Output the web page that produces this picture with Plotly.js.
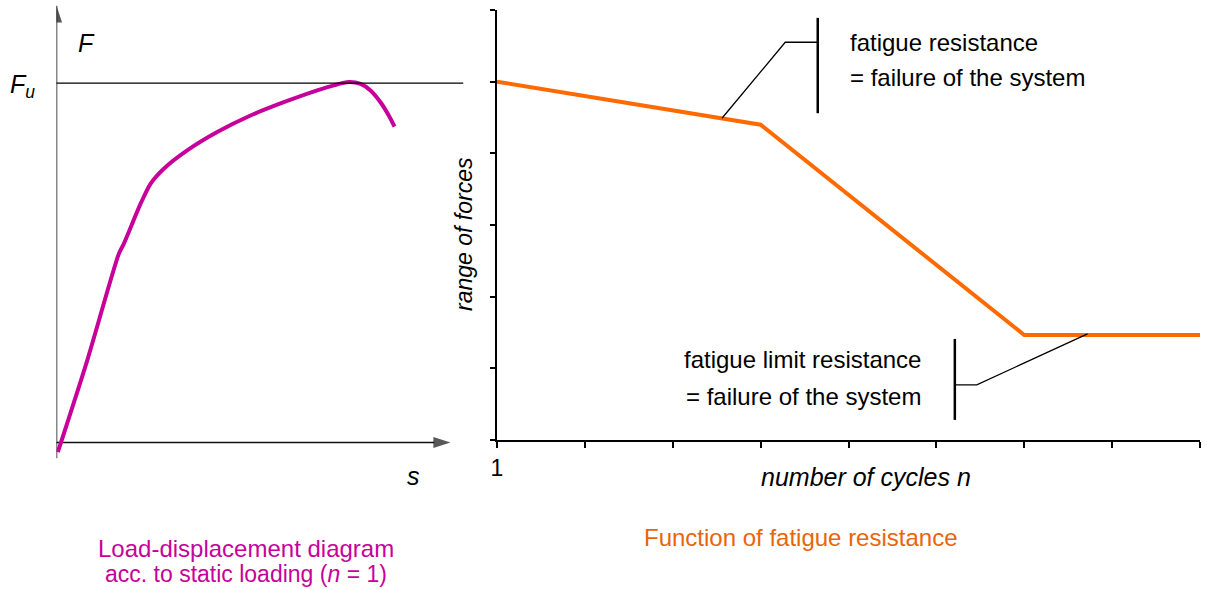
<!DOCTYPE html>
<html>
<head>
<meta charset="utf-8">
<script src="https://cdn.plot.ly/plotly-3.0.1.min.js"></script>
<style>html,body{margin:0;padding:0;background:#fff;}#chart{width:1208px;height:589px;}</style>
</head>
<body>
<div id="chart"></div>
<script>
// Left panel: load-displacement curve (s in arbitrary units, F relative to Fu)
const displacementS = [0.013, 0.307, 0.623, 0.673, 0.84, 0.94, 1.073, 1.307, 1.607, 1.94, 2.273, 2.607, 2.773, 2.923, 3.04, 3.14, 3.24, 3.323, 3.38];
const loadF = [-0.027, 0.228, 0.525, 0.553, 0.664, 0.72, 0.762, 0.813, 0.864, 0.91, 0.947, 0.98, 0.994, 1.003, 0.998, 0.98, 0.947, 0.91, 0.879];
const ultimateLoad = 1;

// Right panel: fatigue resistance function (x in log-cycle tick units, y in tick units)
const cyclesN = [0, 3, 6, 8];
const rangeOfForces = [5, 4.4, 1.465, 1.465];
const xTickVals = [0, 1, 2, 3, 4, 5, 6, 7, 8];
const xTickText = ['1', '', '', '', '', '', '', '', ''];
const yTickVals = [0, 1, 2, 3, 4, 5, 6];

// Leader lines for the callouts (data units of the right panel)
const leader1X = [2.56, 3.28, 3.65];
const leader1Y = [4.49, 5.55, 5.55];
const bracket1X = [3.65, 3.65];
const bracket1Y = [5.89, 4.56];
const leader2X = [6.72, 5.46, 5.21];
const leader2Y = [1.48, 0.77, 0.77];
const bracket2X = [5.21, 5.21];
const bracket2Y = [1.41, 0.28];

const W = 1208, H = 589;
const px = v => v / W;
const py = v => 1 - v / H;
const FONT = 'Liberation Sans, Arial, sans-serif';
const MAGENTA = '#C8009B';
const ORANGE = '#FF6A00';
const ORANGE_TXT = '#E8650A';
const FU_PX = 359.3;   // pixels per unit of F/Fu in the left panel
const S_MIN = -0.03, S_MAX = 4.07, S_ARROW = 3.94;
const F_MIN = -16 / FU_PX, F_MAX = 437 / FU_PX;

const arrowAxis = (xs, ys) => ({
  x: xs, y: ys, xaxis: 'x', yaxis: 'y', mode: 'lines+markers',
  line: {color: '#111', width: 1.5},
  marker: {symbol: 'arrow', angleref: 'previous', size: [0, 18], color: '#111', line: {width: 0}},
  hoverinfo: 'skip'
});

const traces = [
  arrowAxis([0, 0], [F_MIN, F_MAX]),
  arrowAxis([S_MIN, S_ARROW], [0, 0]),
  {x: displacementS, y: loadF, xaxis: 'x', yaxis: 'y', mode: 'lines',
   line: {color: MAGENTA, width: 4, shape: 'spline', smoothing: 0.7}, hoverinfo: 'skip'},
  {x: cyclesN, y: rangeOfForces, xaxis: 'x2', yaxis: 'y2', mode: 'lines',
   line: {color: ORANGE, width: 4}, hoverinfo: 'skip'},
  {x: leader1X, y: leader1Y, xaxis: 'x2', yaxis: 'y2', mode: 'lines', line: {color: '#000', width: 1.3}, hoverinfo: 'skip'},
  {x: bracket1X, y: bracket1Y, xaxis: 'x2', yaxis: 'y2', mode: 'lines', line: {color: '#000', width: 2.5}, hoverinfo: 'skip'},
  {x: leader2X, y: leader2Y, xaxis: 'x2', yaxis: 'y2', mode: 'lines', line: {color: '#000', width: 1.3}, hoverinfo: 'skip'},
  {x: bracket2X, y: bracket2Y, xaxis: 'x2', yaxis: 'y2', mode: 'lines', line: {color: '#000', width: 2.5}, hoverinfo: 'skip'}
];

const txt = (text, x, y, opts) => Object.assign({
  text: text, x: px(x), y: py(y), xref: 'paper', yref: 'paper', showarrow: false,
  xanchor: 'center', yanchor: 'middle', font: {family: FONT, size: 24, color: '#000'}
}, opts || {});

const layout = {
  width: W, height: H,
  margin: {l: 0, r: 0, t: 0, b: 0},
  paper_bgcolor: '#fff', plot_bgcolor: 'rgba(0,0,0,0)',
  showlegend: false,
  xaxis: {domain: [px(56.5), px(463.5)], range: [0, S_MAX], visible: false, fixedrange: true},
  yaxis: {domain: [py(458.5), py(5.5)], range: [F_MIN, F_MAX], visible: false, fixedrange: true},
  xaxis2: {domain: [px(497), px(1200)], range: [0, 8], anchor: 'y2', showline: true, linecolor: '#000', linewidth: 2,
    ticks: 'outside', ticklen: 6, tickwidth: 2, tickcolor: '#000', tickvals: xTickVals, ticktext: xTickText,
    tickfont: {family: FONT, size: 23, color: '#000'}, ticklabelstandoff: 0,
    showgrid: false, zeroline: false, fixedrange: true},
  yaxis2: {domain: [py(440), py(10)], range: [0, 6], anchor: 'x2', showline: true, linecolor: '#000', linewidth: 2,
    ticks: 'outside', ticklen: 5, tickwidth: 2, tickcolor: '#000', tickvals: yTickVals, showticklabels: false,
    showgrid: false, zeroline: false, fixedrange: true},
  shapes: [
    {type: 'line', xref: 'x', yref: 'y', x0: S_MIN, x1: S_MAX, y0: ultimateLoad, y1: ultimateLoad, line: {color: '#000', width: 1.3}}
  ],
  annotations: [
    txt('<i>F</i>', 86, 43, {font: {family: FONT, size: 25, color: '#000'}}),
    txt('<i>F</i><sub><i>u</i></sub>', 22, 86, {font: {family: FONT, size: 25, color: '#000'}}),
    txt('<i>s</i>', 414, 476, {font: {family: FONT, size: 25, color: '#000'}}),
    txt('Load-displacement diagram', 246, 548, {font: {family: FONT, size: 24, color: MAGENTA}}),
    txt('acc. to static loading (<i>n</i> = 1)', 246, 574, {font: {family: FONT, size: 23, color: MAGENTA}}),
    txt('Function of fatigue resistance', 801, 537, {font: {family: FONT, size: 24, color: ORANGE_TXT}}),
    txt('<i>number of cycles n</i>', 866, 477, {font: {family: FONT, size: 25, color: '#000'}}),
    txt('<i>range of forces</i>', 464, 234, {textangle: -90, font: {family: FONT, size: 23, color: '#000'}}),
    txt('fatigue resistance', 848, 42, {xanchor: 'left'}),
    txt('= failure of the system', 848, 77, {xanchor: 'left'}),
    txt('fatigue limit resistance', 923, 359, {xanchor: 'right'}),
    txt('= failure of the system', 923, 396, {xanchor: 'right'})
  ]
};

Plotly.newPlot('chart', traces, layout, {staticPlot: true, displayModeBar: false});
</script>
</body>
</html>
